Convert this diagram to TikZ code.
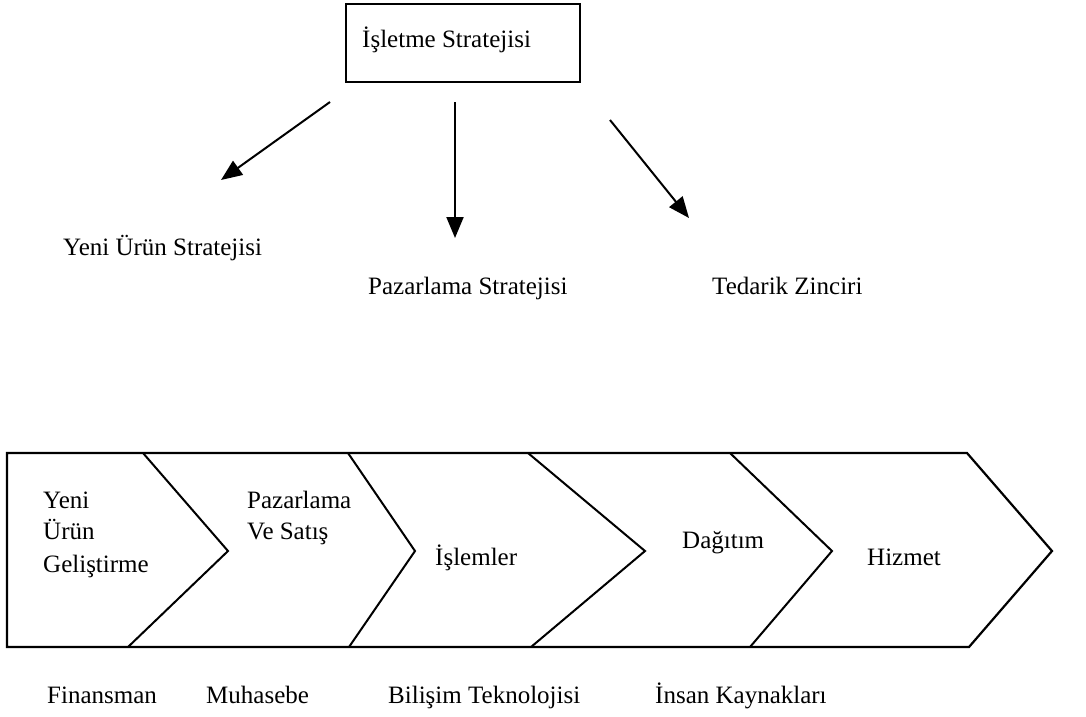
\documentclass[tikz,border=0pt]{standalone}
\usepackage{fontspec}
\setmainfont{Liberation Serif}
\usetikzlibrary{arrows.meta}
\begin{document}
\begin{tikzpicture}[x=1pt,y=-1pt,
  lbl/.style={anchor=base west,inner sep=0pt,font=\fontsize{25}{32}\selectfont},
  lbls/.style={lbl,align=left},
  outline/.style={line width=2.2pt,line join=miter},
  divider/.style={line width=2pt},
  strat/.style={line width=2pt,-{Triangle[length=21pt,width=17pt]}}]
\useasboundingbox (0,0) rectangle (1086,716);

% top box
\draw[line width=1.8pt] (346,4) rectangle (580,82);
\node[lbl] (top) at (362,47) {İşletme Stratejisi};

% strategies
\node[lbl] (yeni) at (63,255) {Yeni Ürün Stratejisi};
\node[lbl] (paz) at (368,294) {Pazarlama Stratejisi};
\node[lbl] (ted) at (712,294) {Tedarik Zinciri};

\coordinate (a1s) at (330,102);
\coordinate (a1e) at (221,180);
\coordinate (a2s) at (455,102);
\coordinate (a2e) at (455,238);
\coordinate (a3s) at (610,120);
\coordinate (a3e) at (689,218);
\draw[strat] (a1s) -- (a1e);
\draw[strat] (a2s) -- (a2e);
\draw[strat] (a3s) -- (a3e);

% value chain outline
\draw[outline] (7,453) -- (967,453) -- (1052,551) -- (969,647) -- (7,647) -- cycle;
% chevron dividers
\draw[divider] (143,453) -- (228,551) -- (128,647);
\draw[divider] (348,453) -- (415,551) -- (349,647);
\draw[divider] (528,453) -- (645,551) -- (531,647);
\draw[divider] (730,453) -- (832,551) -- (750,647);

% chevron texts
\node[lbl] (c1a) at (43,508) {Yeni};
\node[lbl] (c1b) at (43,539) {Ürün};
\node[lbl] (c1c) at (43,572) {Geliştirme};
\node[lbl] (c2a) at (247,508) {Pazarlama};
\node[lbl] (c2b) at (247,539) {Ve Satış};
\node[lbl] (c3) at (435,565) {İşlemler};
\node[lbl] (c4) at (682,548) {Dağıtım};
\node[lbl] (c5) at (867,565) {Hizmet};

% support activities
\node[lbl] (s1) at (47,703) {Finansman};
\node[lbl] (s2) at (206,703) {Muhasebe};
\node[lbl] (s3) at (388,703) {Bilişim Teknolojisi};
\node[lbl] (s4) at (655,703) {İnsan Kaynakları};
\end{tikzpicture}
\end{document}
